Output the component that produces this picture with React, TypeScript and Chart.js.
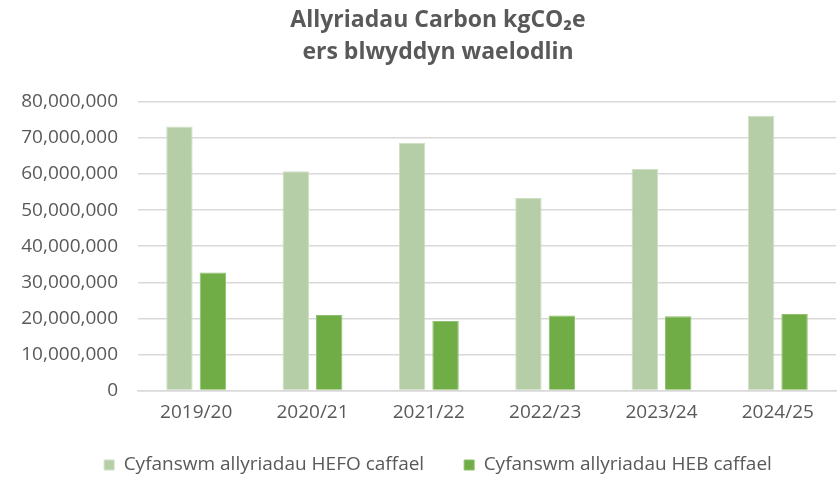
import React, { useEffect, useRef } from "react";
import { Chart, registerables } from "chart.js";

Chart.register(...registerables);

const categories = ["2019/20", "2020/21", "2021/22", "2022/23", "2023/24", "2024/25"];
const totalWithProcurement = [73200000, 60800000, 68700000, 53400000, 61400000, 76200000];
const totalWithoutProcurement = [32700000, 20900000, 19300000, 20800000, 20600000, 21200000];
const seriesLabels = ["Cyfanswm allyriadau HEFO caffael", "Cyfanswm allyriadau HEB caffael"];
const titleLines = ["Allyriadau Carbon kgCO₂e", "ers blwyddyn waelodlin"];
const yMin = 0;
const yMax = 80000000;
const yStep = 10000000;

const FONT = "'Open Sans', 'Noto Sans', sans-serif";
const TEXT = "#595959";

// Lets the legend start a little higher after layout so the item spacing can stay wide.
const legendLift = {
  id: "legendLift",
  afterLayout(chart: any) {
    const l = chart.legend;
    if (l) {
      l.top -= 11;
      l.height += 11;
    }
  },
};

export default function App() {
  const ref = useRef<HTMLCanvasElement | null>(null);

  useEffect(() => {
    document.body.style.margin = "0";
    document.body.style.overflow = "hidden";
    const canvas = ref.current;
    if (!canvas) return;
    const chart = new Chart(canvas, {
      type: "bar",
      data: {
        labels: categories,
        datasets: [
          {
            label: seriesLabels[0],
            data: totalWithProcurement,
            backgroundColor: "#b5cea7",
            borderColor: "#cfe0c5",
            borderWidth: 1,
            barPercentage: 0.79,
            categoryPercentage: 0.575,
          },
          {
            label: seriesLabels[1],
            data: totalWithoutProcurement,
            backgroundColor: "#70ad47",
            borderColor: "#8fc070",
            borderWidth: 1,
            barPercentage: 0.79,
            categoryPercentage: 0.575,
          },
        ],
      },
      plugins: [legendLift],
      options: {
        responsive: false,
        animation: false,
        layout: { padding: { left: 0, right: 0, top: 0, bottom: 0 } },
        plugins: {
          title: {
            display: true,
            text: titleLines,
            color: TEXT,
            font: { family: FONT, size: 23, weight: "bold", lineHeight: 1.39 },
            padding: { top: 4, bottom: 34 },
          },
          legend: {
            display: true,
            position: "bottom",
            maxHeight: 51.5,
            labels: {
              color: TEXT,
              font: { family: FONT, size: 19 },
              boxWidth: 10,
              boxHeight: 10,
              padding: 40,
            },
          },
          tooltip: { enabled: false },
        },
        scales: {
          x: {
            grid: { display: false, drawTicks: false },
            border: { display: true, color: "#d9d9d9", width: 1.5 },
            ticks: {
              color: TEXT,
              font: { family: FONT, size: 19 },
              padding: 11,
            },
            afterFit: (s: any) => {
              s.height = 36;
            },
          },
          y: {
            min: yMin,
            max: yMax,
            grid: { color: "#d9d9d9", lineWidth: 1.5, drawTicks: false },
            border: { display: false },
            ticks: {
              stepSize: yStep,
              color: TEXT,
              font: { family: FONT, size: 19 },
              padding: 20,
              callback: (v: any) => Number(v).toLocaleString("en-US"),
            },
            afterFit: (s: any) => {
              s.width = 138;
            },
          },
          spacer: {
            type: "linear",
            position: "right",
            display: true,
            grid: { display: false, drawTicks: false },
            border: { display: false },
            ticks: { display: false },
            afterFit: (s: any) => {
              s.width = 40;
            },
          },
        },
      },
    });
    return () => chart.destroy();
  }, []);

  return (
    <div style={{ width: 839, height: 478, overflow: "hidden", position: "relative" }}>
      <canvas ref={ref} width={876} height={478} style={{ display: "block" }} />
    </div>
  );
}
